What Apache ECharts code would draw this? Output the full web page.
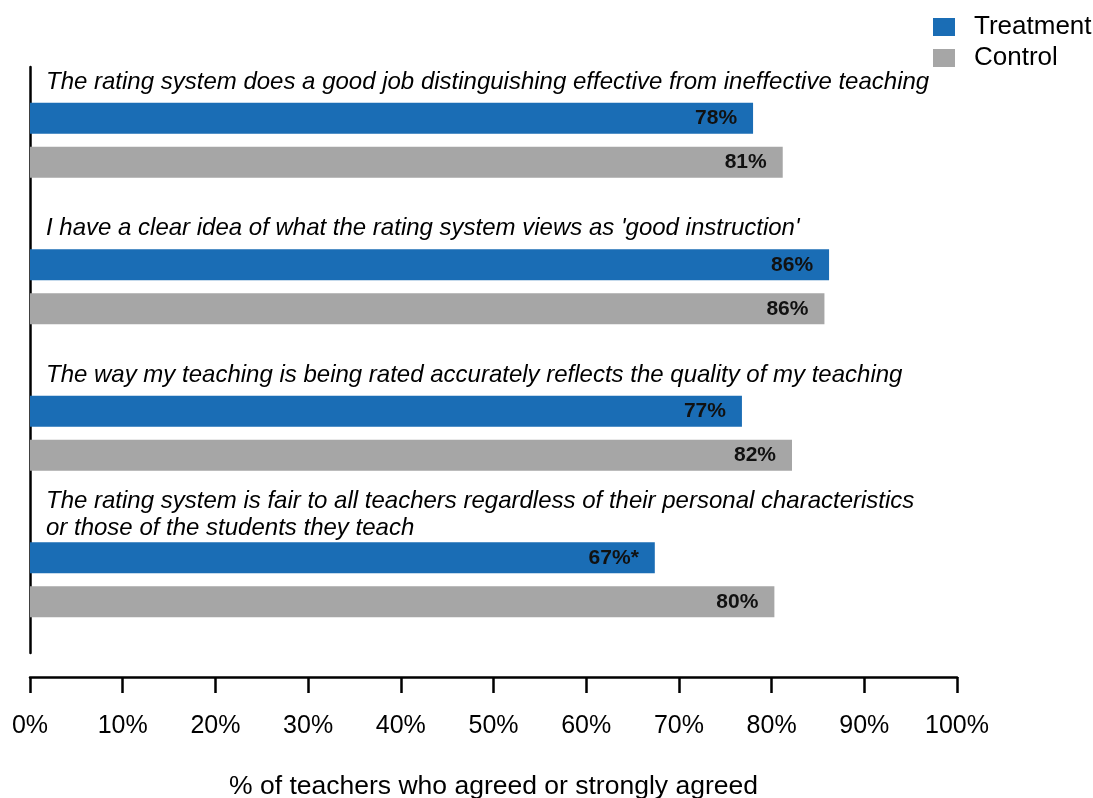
<!DOCTYPE html>
<html>
<head>
<meta charset="utf-8">
<script src="https://cdn.jsdelivr.net/npm/echarts@6/dist/echarts.min.js"></script>
<style>html,body{margin:0;padding:0;background:#fff}#c{width:1093px;height:798px}</style>
</head>
<body>
<div id="c"></div>
<script>
const categories = [
  "The rating system does a good job distinguishing effective from ineffective teaching",
  "I have a clear idea of what the rating system views as 'good instruction'",
  "The way my teaching is being rated accurately reflects the quality of my teaching",
  "The rating system is fair to all teachers regardless of their personal characteristics\nor those of the students they teach"
];
const treatment = [78.0, 86.2, 76.8, 67.4];
const control = [81.2, 85.7, 82.2, 80.3];
const treatmentMarks = ["", "", "", "*"];
const xTicks = [0, 10, 20, 30, 40, 50, 60, 70, 80, 90, 100];

const FONT = "Liberation Sans, Arial, sans-serif";
const chart = echarts.init(document.getElementById('c'));
chart.setOption({
  animation: false,
  textStyle: { fontFamily: FONT },
  legend: {
    orient: 'vertical',
    left: 928, top: 9,
    itemWidth: 22, itemHeight: 18, itemGap: 5,
    icon: 'rect',
    textStyle: { fontSize: 26, color: '#000', padding: [0, 0, 0, 14] },
    data: ['Treatment', 'Control']
  },
  grid: { left: 30, right: 136, top: 67, bottom: 145, containLabel: false, outerBoundsMode: 'none' },
  xAxis: {
    type: 'value', min: xTicks[0], max: xTicks[xTicks.length - 1], interval: 10,
    offset: 24,
    axisLine: { show: true, lineStyle: { color: '#000', width: 2.5 } },
    axisTick: { show: true, length: 16, lineStyle: { color: '#000', width: 2.5 } },
    axisLabel: { formatter: '{value}%', fontSize: 25, color: '#000', margin: 37 },
    splitLine: { show: false },
    name: '% of teachers who agreed or strongly agreed',
    nameLocation: 'middle', nameGap: 96,
    nameTextStyle: { fontSize: 26.5, color: '#000' }
  },
  yAxis: {
    type: 'category', inverse: true,
    data: categories,
    axisLine: { show: true, lineStyle: { color: '#000', width: 2.5 } },
    axisTick: { show: false },
    axisLabel: {
      inside: true, margin: 16, color: '#000',
      align: 'left', verticalAlign: 'bottom', padding: [0, 0, 37.5, 0],
      formatter: (v) => {
        const lines = v.split('\n');
        return lines.map(l => '{t|' + l + '}').join('\n') + (lines.length === 1 ? '\n{g| }' : '');
      },
      rich: {
        t: { fontSize: 24, fontStyle: 'italic', lineHeight: 27, color: '#000', fontFamily: FONT },
        g: { fontSize: 1, lineHeight: 7 }
      }
    }
  },
  series: [
    {
      name: 'Treatment', type: 'bar', data: treatment, barWidth: 31, barGap: '42%',
      itemStyle: { color: '#1a6db5' },
      label: { show: true, position: 'insideRight', distance: 16, fontSize: 21, fontWeight: 'bold', color: '#111',
        formatter: p => Math.round(p.value) + '%' + treatmentMarks[p.dataIndex] }
    },
    {
      name: 'Control', type: 'bar', data: control, barWidth: 31,
      itemStyle: { color: '#a6a6a6' },
      label: { show: true, position: 'insideRight', distance: 16, fontSize: 21, fontWeight: 'bold', color: '#111',
        formatter: p => Math.round(p.value) + '%' }
    }
  ]
});
</script>
</body>
</html>
